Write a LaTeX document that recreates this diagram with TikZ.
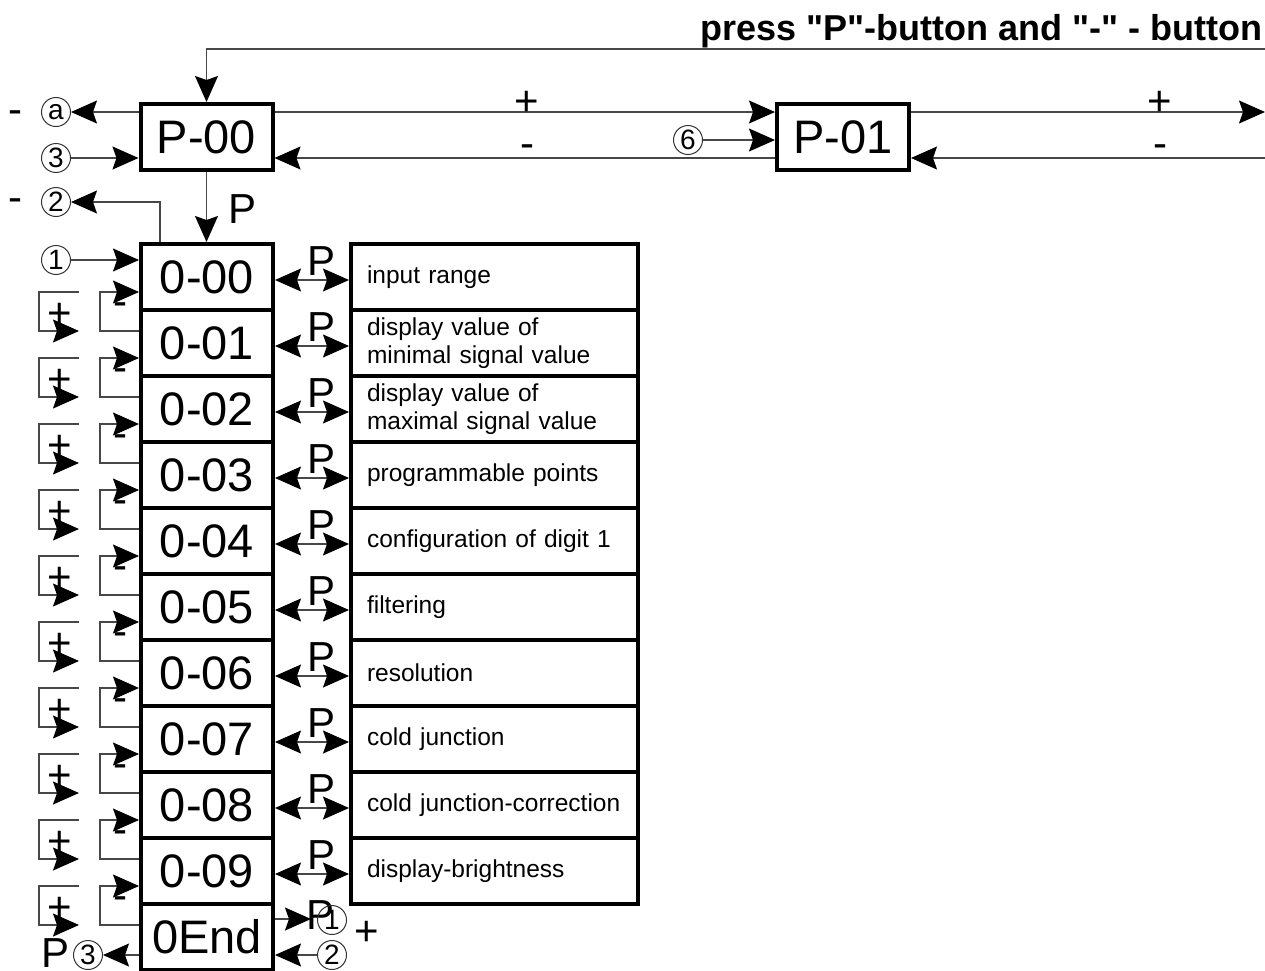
\documentclass[tikz,border=0pt]{standalone}
\usepackage{fontspec}
\setmainfont{Liberation Sans}[Ligatures=TeXOff]
\usetikzlibrary{arrows.meta}
\begin{document}
\begin{tikzpicture}[x=1pt,y=-1pt,
 line/.style={draw=black!72,line width=1.4pt},
 arr/.style={line,-{Stealth[length=26pt,width=23pt,inset=4pt,color=black]}},
 arrs/.style={line,{Stealth[length=26pt,width=23pt,inset=4pt,color=black]}-{Stealth[length=26pt,width=23pt,inset=4pt,color=black]}},
 bigbox/.style={draw=black,line width=4pt,minimum width=132pt,minimum height=66pt,inner sep=0pt,font=\fontsize{47}{47}\selectfont},
 txtbox/.style={draw=black,line width=4pt,minimum width=287pt,minimum height=66pt,text width=255pt,align=left,inner xsep=16pt,inner ysep=0pt,font=\fontsize{24.5}{28}\selectfont},
 circ/.style={circle,draw=black!80,line width=1pt,minimum size=29pt,inner sep=0pt,font=\fontsize{28}{28}\selectfont},
 sym/.style={inner sep=0pt,anchor=base,font=\fontsize{42}{42}\selectfont},
 plab/.style={inner sep=0pt,anchor=base,font=\fontsize{42}{42}\selectfont},
]
\useasboundingbox (0,0) rectangle (1265,970);

% title
\node[inner sep=0pt,anchor=base east,font=\bfseries\fontsize{36}{36}\selectfont] (title) at (1263,40) {press "P"-button and "-" - button};

% top boxes
\node[bigbox] (P00) at (206.5,137) {P-00};
\node[bigbox] (P01) at (843,137) {P-01};

% circles top left
\node[circ] (ca) at (56,112) {a};
\node[circ] (c3) at (56,158) {3};
\node[circ] (c2) at (56,202) {2};
\node[circ] (c1) at (56,260) {1};
\node[circ] (c6) at (688,140) {6};
\node[sym] (ma) at (15,123) {-};
\node[sym] (m2) at (15,211) {-};

% coordinates on the right edge
\coordinate (tr) at (1265,49);
\coordinate (rp) at (1265,112);
\coordinate (rm) at (1265,158);

% top connectors
\draw[arr] (tr) -| (P00.north);
\draw[arr] (P00.west |- ca) -- (ca);
\draw[arr] (c3) -- (P00.west |- c3);
\draw[arr] (P00.east |- ca) -- (P01.west |- ca);
\draw[arr] (P01.west |- c3) -- (P00.east |- c3);
\draw[arr] (c6) -- (P01.west |- c6);
\draw[arr] (P01.east |- ca) -- (rp);
\draw[arr] (rm) -- (P01.east |- c3);

\node[sym] (pl1) at (527,115) {+};
\node[sym] (ml1) at (527,157) {-};
\node[sym] (pl2) at (1160,115) {+};
\node[sym] (ml2) at (1160,157) {-};

% stack of parameter boxes
\foreach \k/\lab in {0/0-00,1/0-01,2/0-02,3/0-03,4/0-04,5/0-05,6/0-06,7/0-07,8/0-08,9/0-09,10/0End}
  \node[bigbox] (B\k) at (207,{277+66*\k}) {\lab};

% text boxes
\node[txtbox] (T0) at (494.5,277) {input range};
\node[txtbox] (T1) at (494.5,343) {display value of\\minimal signal value};
\node[txtbox] (T2) at (494.5,409) {display value of\\maximal signal value};
\node[txtbox] (T3) at (494.5,475) {programmable points};
\node[txtbox] (T4) at (494.5,541) {configuration of digit 1};
\node[txtbox] (T5) at (494.5,607) {filtering};
\node[txtbox] (T6) at (494.5,673) {resolution};
\node[txtbox] (T7) at (494.5,739) {cold junction};
\node[txtbox] (T8) at (494.5,805) {cold junction-correction};
\node[txtbox] (T9) at (494.5,871) {display-brightness};

% P-00 to 0-00
\draw[arr] (P00.south) -- (P00.south |- B0.north);
\node[plab] (pP) at (243,223) {P};
\draw[arr] ([xshift=-47pt]B0.north) |- (c2);
\draw[arr] (c1) -- (B0.west |- c1);

% double arrows with P
\foreach \k in {0,...,9} {
  \draw[arrs] ([yshift=-3pt]B\k.east) -- ([yshift=-3pt]T\k.west);
  \node[plab] (pp\k) at ([xshift=47pt,yshift=2pt]B\k.east) {P};
}

% +/- loops
\foreach \k in {0,...,9} {
  \pgfmathtruncatemacro\j{\k+1}
  \draw[arr] ([yshift=12pt]B\j.west) -- ++(-39,0) |- ([yshift=-15pt]B\k.west);
  \draw[arr] ([xshift=-60pt,yshift=-15pt]B\k.west) -- ++(-40,0) |- ([xshift=-60pt,yshift=12pt]B\j.west);
  \node[sym] (lm\k) at ([xshift=-19pt,yshift=-38pt]B\k.west) {-};
  \node[sym] (lp\k) at ([xshift=-79pt,yshift=-50pt]B\k.west) {+};
}

% bottom row
\coordinate (e1) at (311,919);
\draw[arr] (B10.east |- e1) -- (e1);
\node[plab] (pb) at (321,929) {P};
\node[circ] (cb1) at (332,920) {1};
\node[sym] (pbp) at (367,945) {+};
\node[circ] (cb2) at (332,955) {2};
\draw[arr] (cb2) -- (B10.east |- cb2);
\node[circ] (cb3) at (88,955) {3};
\node[plab] (pb3) at (56,967) {P};
\draw[arr] (B10.west |- cb3) -- (cb3);
\end{tikzpicture}
\end{document}
